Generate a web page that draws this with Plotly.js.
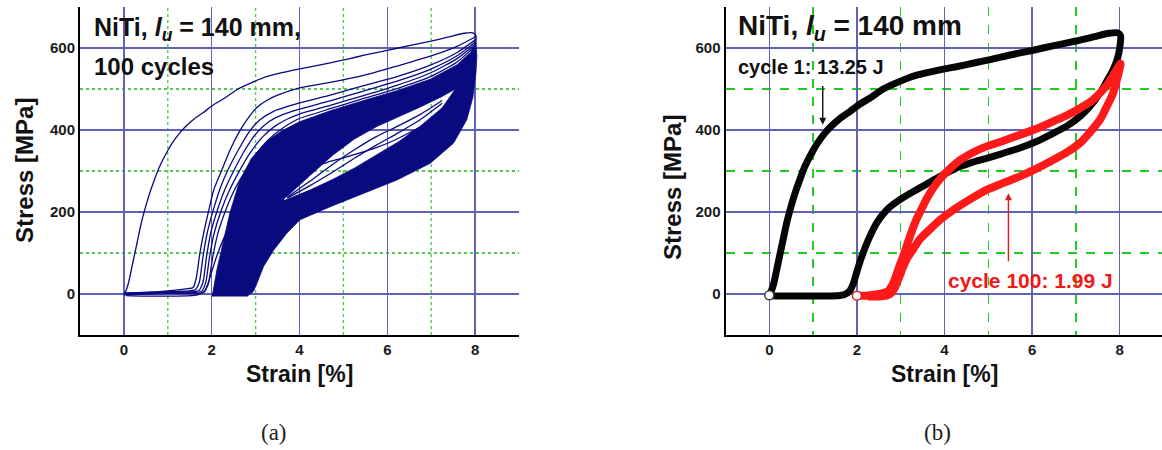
<!DOCTYPE html>
<html>
<head>
<meta charset="utf-8">
<script src="https://cdn.plot.ly/plotly-3.0.1.min.js"></script>
<style>
  html, body { margin: 0; padding: 0; background: #fff; }
  #chart { width: 1162px; height: 450px; }
</style>
</head>
<body>
<div id="chart"></div>
<script>
// ---- cycle 1 (strain %, stress MPa) ----
const c1LoadStrain = [0.00, 0.03, 0.10, 0.20, 0.30, 0.40, 0.50, 0.60, 0.70, 0.80, 0.90, 1.00, 1.10, 1.25, 1.40, 1.60, 1.80, 2.05, 2.30, 2.60, 2.90, 3.25, 3.60, 3.95, 4.30, 4.70, 5.10, 5.50, 6.00, 6.50, 7.00, 7.40, 7.75, 7.95, 8.02];
const c1LoadStress = [-3, 3, 25, 75, 125, 175, 215, 250, 280, 308, 330, 350, 368, 390, 408, 427, 442, 462, 478, 500, 515, 530, 540, 548, 555, 564, 573, 583, 594, 606, 617, 627, 636, 637, 630];
const c1UnloadStrain = [8.00, 7.95, 7.85, 7.70, 7.55, 7.30, 7.09, 6.80, 6.48, 6.10, 5.72, 5.30, 4.96, 4.60, 4.35, 4.10, 3.90, 3.59, 3.29, 2.98, 2.68, 2.45, 2.26, 2.11, 1.99, 1.92, 1.84, 1.72, 1.55, 1.20, 0.80, 0.40, 0.05];
const c1UnloadStress = [600, 575, 547, 518, 490, 455, 433, 410, 392, 372, 356, 342, 331, 320, 311, 298, 287, 268, 250, 230, 205, 173, 132, 91, 51, 26, 8, -1, -4, -5, -5, -5, -4];

// ---- cycle 100 ----
const c100LoadStrain = [2.00, 2.20, 2.40, 2.60, 2.72, 2.80, 2.88, 2.95, 3.05, 3.14, 3.25, 3.36, 3.48, 3.59, 3.75, 3.90, 4.10, 4.35, 4.65, 4.96, 5.35, 5.72, 6.10, 6.48, 6.80, 7.09, 7.35, 7.55, 7.75, 7.93, 8.02];
const c100LoadStress = [-4, -4, -2, 2, 8, 20, 40, 62, 90, 118, 152, 182, 208, 232, 260, 281, 303, 326, 345, 360, 374, 388, 403, 421, 436, 453, 470, 490, 515, 547, 562];
const c100UnloadStrain = [7.95, 7.85, 7.70, 7.55, 7.30, 7.09, 6.80, 6.48, 6.10, 5.72, 5.35, 4.96, 4.60, 4.20, 3.90, 3.67, 3.44, 3.29, 3.15, 3.06, 2.98, 2.91, 2.85, 2.79, 2.70, 2.50, 2.25];
const c100UnloadStress = [528, 490, 456, 425, 392, 368, 346, 327, 306, 287, 271, 254, 232, 205, 181, 158, 134, 110, 88, 67, 45, 27, 12, 3, -3, -6, -6];

// ---- early loading branches, cycles 2-6 ----
const c2Strain = [0.0, 0.8, 1.45, 1.58, 1.65, 1.73, 1.82, 1.92, 2.05, 2.23, 2.42, 2.64, 2.85, 3.03, 3.25, 3.50, 4.00, 4.70, 5.46, 6.22, 6.98, 7.59, 8.02];
const c2Stress = [2, 6, 13, 16, 40, 99, 150, 198, 255, 302, 352, 398, 432, 455, 472, 485, 503, 516, 533, 556, 580, 604, 628];
const c3Strain = [0.0, 1.0, 1.62, 1.72, 1.80, 1.90, 2.05, 2.20, 2.38, 2.60, 2.85, 3.10, 3.40, 4.00, 4.70, 5.46, 6.22, 6.98, 7.59, 8.02];
const c3Stress = [2, 6, 10, 30, 90, 150, 210, 260, 305, 350, 395, 425, 445, 466, 485, 508, 530, 558, 589, 621];
const c4Strain = [0.0, 1.0, 1.70, 1.80, 1.88, 1.98, 2.13, 2.30, 2.50, 2.75, 3.00, 3.30, 3.60, 4.00, 4.70, 5.46, 6.22, 6.98, 7.59, 8.02];
const c4Stress = [0, 4, 8, 28, 90, 150, 205, 255, 300, 350, 390, 420, 437, 451, 471, 495, 519, 548, 581, 616];
const c5Strain = [0.0, 1.0, 1.76, 1.86, 1.95, 2.06, 2.22, 2.40, 2.62, 2.88, 3.15, 3.45, 3.75, 4.00, 4.70, 5.46, 6.22, 6.98, 7.59, 8.02];
const c5Stress = [0, 3, 6, 26, 90, 150, 205, 252, 298, 345, 382, 410, 428, 439, 460, 484, 509, 539, 574, 611];
const c6Strain = [0.0, 1.0, 1.82, 1.92, 2.02, 2.14, 2.31, 2.50, 2.74, 3.00, 3.28, 3.58, 3.85, 4.00, 4.70, 5.46, 6.22, 6.98, 7.59, 8.02];
const c6Stress = [-2, 1, 4, 24, 88, 148, 202, 250, 296, 340, 375, 402, 420, 428, 452, 477, 501, 530, 566, 607];

// ---- envelope of the dense later cycles ----
const bandUpperStrain = [2.00, 2.02, 2.12, 2.25, 2.42, 2.62, 2.90, 3.25, 3.60, 4.00, 4.70, 5.46, 6.22, 6.98, 7.59, 7.90, 8.02];
const bandUpperStress = [-6, 0, 60, 120, 200, 270, 330, 372, 398, 420, 447, 472, 496, 524, 559, 590, 612];
const bandLowerStrain = [8.04, 8.02, 7.95, 7.81, 7.51, 6.98, 6.22, 5.46, 4.70, 4.01, 3.71, 3.41, 3.18, 3.03, 2.95, 2.80];
const bandLowerStress = [580, 540, 480, 425, 368, 319, 278, 246, 213, 181, 148, 107, 67, 26, 6, -6];

// open gap inside the late loops, and the branches crossing it
const gapStrain = [3.65, 4.25, 4.75, 5.25, 5.75, 6.25, 6.75, 7.25, 7.55];
const gapLowerStress = [228, 254, 279, 307, 339, 371, 409, 454, 500];
const gapUpperStress = [232, 290, 338, 378, 408, 432, 456, 482, 500];
const crossStrain = [3.72, 4.25, 4.75, 5.25, 5.75, 6.25, 6.75, 7.25];
const crossAStress = [234, 265, 297, 331, 363, 393, 425, 465];
const crossBStress = [236, 276, 316, 352, 384, 410, 438, 472];

// ---- axes ----
const strainTicks = [0, 2, 4, 6, 8];
const strainMinor = [1, 3, 5, 7];
const stressTicks = [0, 200, 400, 600];
const stressMinor = [100, 300, 500];

const NAVY = '#0a0a80';
const SANS = 'Liberation Sans, Arial, Helvetica, sans-serif';

const rev = a => a.slice().reverse();
const loop = (a, b) => a.concat(b);

// band outline (clockwise) followed by the gap outline (counter-clockwise) -> gap stays open
const bandX = bandUpperStrain.concat(bandLowerStrain, [null], gapStrain, rev(gapStrain));
const bandY = bandUpperStress.concat(bandLowerStress, [null], gapLowerStress, rev(gapUpperStress));

const thin = {color: NAVY, width: 1.3, shape: 'spline', smoothing: 0.6};

const traces = [
  {x: bandX, y: bandY, xaxis: 'x', yaxis: 'y', mode: 'lines', fill: 'toself',
   fillcolor: NAVY, line: {color: NAVY, width: 0.8}},
  {x: crossStrain, y: crossAStress, xaxis: 'x', yaxis: 'y', mode: 'lines', line: thin},
  {x: crossStrain, y: crossBStress, xaxis: 'x', yaxis: 'y', mode: 'lines', line: thin},
  {x: c6Strain, y: c6Stress, xaxis: 'x', yaxis: 'y', mode: 'lines', line: thin},
  {x: c5Strain, y: c5Stress, xaxis: 'x', yaxis: 'y', mode: 'lines', line: thin},
  {x: c4Strain, y: c4Stress, xaxis: 'x', yaxis: 'y', mode: 'lines', line: thin},
  {x: c3Strain, y: c3Stress, xaxis: 'x', yaxis: 'y', mode: 'lines', line: thin},
  {x: c2Strain, y: c2Stress, xaxis: 'x', yaxis: 'y', mode: 'lines', line: thin},
  {x: loop(c1LoadStrain, c1UnloadStrain), y: loop(c1LoadStress, c1UnloadStress),
   xaxis: 'x', yaxis: 'y', mode: 'lines', line: thin},

  // right panel: first and last cycle
  {x: loop(c1LoadStrain, c1UnloadStrain), y: loop(c1LoadStress, c1UnloadStress),
   xaxis: 'x2', yaxis: 'y2', mode: 'lines',
   line: {color: '#050505', width: 7, shape: 'spline', smoothing: 0.6}},
  {x: loop(c100LoadStrain, c100UnloadStrain), y: loop(c100LoadStress, c100UnloadStress),
   xaxis: 'x2', yaxis: 'y2', mode: 'lines',
   line: {color: '#ff1a1a', width: 8, shape: 'spline', smoothing: 0.6}},
  {x: [c1LoadStrain[0]], y: [c1LoadStress[0]], xaxis: 'x2', yaxis: 'y2', mode: 'markers',
   marker: {size: 9, color: '#ffffff', line: {color: '#444', width: 1.5}}},
  {x: [c100LoadStrain[0]], y: [c100LoadStress[0]], xaxis: 'x2', yaxis: 'y2', mode: 'markers',
   marker: {size: 9, color: '#ffffff', line: {color: '#e02020', width: 1.5}}}
];

function xAxis(domain, anchor, range, minorGrid, minorDash, minorColor) {
  return {
    domain, anchor, range, tickmode: 'array', tickvals: strainTicks,
    showgrid: true, gridcolor: '#6262b4', gridwidth: 1.3, zeroline: false,
    showline: true, linecolor: '#000', linewidth: 2, ticks: '',
    tickfont: {family: SANS, size: 15, color: '#1a1a1a', weight: 'bold'},
    minor: {tickmode: 'array', tickvals: strainMinor, showgrid: minorGrid, gridcolor: minorColor, griddash: minorDash, gridwidth: 1.4},
    fixedrange: true
  };
}
function yAxis(anchor, minorDash, minorColor) {
  return {
    domain: [0.25556, 0.98444], anchor, range: [-100, 700], tickmode: 'array', tickvals: stressTicks,
    showgrid: true, gridcolor: '#6262b4', gridwidth: 1.3, zeroline: false,
    showline: true, linecolor: '#000', linewidth: 2, ticks: '',
    tickfont: {family: SANS, size: 15, color: '#1a1a1a', weight: 'bold'},
    minor: {tickmode: 'array', tickvals: stressMinor, showgrid: true, gridcolor: minorColor, griddash: minorDash, gridwidth: 1.4},
    fixedrange: true
  };
}

// left panel: odd-strain guide lines drawn as shapes under the curves
const shapes = strainMinor.map(v => ({
  type: 'line', xref: 'x', yref: 'y domain', x0: v, x1: v, y0: 0, y1: 1, layer: 'below',
  line: {color: '#55c855', width: 1.4, dash: '3px,3px'}
}));

const txt = (size, color) => ({family: SANS, size, color: color || '#111'});

const annotations = [
  // panel texts
  {xref: 'x', yref: 'y', x: -0.72, y: 647, xanchor: 'left', yanchor: 'middle', showarrow: false,
   text: '<b>NiTi, <i>l</i><sub><i>u</i></sub> = 140 mm,</b>', font: txt(25)},
  {xref: 'x', yref: 'y', x: -0.72, y: 556, xanchor: 'left', yanchor: 'middle', showarrow: false,
   text: '<b>100 cycles</b>', font: txt(24)},
  {xref: 'x2', yref: 'y2', x: -0.76, y: 649, xanchor: 'left', yanchor: 'middle', showarrow: false,
   text: '<b>NiTi, <i>l</i><sub><i>u</i></sub> = 140 mm</b>', font: txt(28)},
  {xref: 'x2', yref: 'y2', x: -0.76, y: 553, xanchor: 'left', yanchor: 'middle', showarrow: false,
   text: '<b>cycle 1: 13.25 J</b>', font: txt(20)},
  {xref: 'x2', yref: 'y2', x: 5.96, y: 34, xanchor: 'center', yanchor: 'middle', showarrow: false,
   text: '<b>cycle 100: 1.99 J</b>', font: txt(21, '#f01818')},
  // pointers
  {xref: 'x2', yref: 'y2', x: 1.22, y: 413, axref: 'x2', ayref: 'y2', ax: 1.22, ay: 511,
   text: '', showarrow: true, arrowhead: 2, arrowsize: 1, arrowwidth: 1.4, arrowcolor: '#111', standoff: 0},
  {xref: 'x2', yref: 'y2', x: 5.46, y: 246, axref: 'x2', ayref: 'y2', ax: 5.46, ay: 76,
   text: '', showarrow: true, arrowhead: 2, arrowsize: 1, arrowwidth: 1.4, arrowcolor: '#e01818', standoff: 0},
  // axis titles
  {xref: 'paper', yref: 'paper', x: 299 / 1162, y: 1 - 373.5 / 450, xanchor: 'center', yanchor: 'middle',
   showarrow: false, text: '<b>Strain [%]</b>', font: txt(23)},
  {xref: 'paper', yref: 'paper', x: 944.5 / 1162, y: 1 - 373.5 / 450, xanchor: 'center', yanchor: 'middle',
   showarrow: false, text: '<b>Strain [%]</b>', font: txt(23)},
  {xref: 'paper', yref: 'paper', x: 24 / 1162, y: 1 - 171 / 450, xanchor: 'center', yanchor: 'middle',
   showarrow: false, textangle: -90, text: '<b>Stress [MPa]</b>', font: txt(24)},
  {xref: 'paper', yref: 'paper', x: 672 / 1162, y: 1 - 188 / 450, xanchor: 'center', yanchor: 'middle',
   showarrow: false, textangle: -90, text: '<b>Stress [MPa]</b>', font: txt(24)},
  // sub-figure captions
  {xref: 'paper', yref: 'paper', x: 274 / 1162, y: 1 - 432.5 / 450, xanchor: 'center', yanchor: 'middle',
   showarrow: false, text: '(a)', font: {family: 'Liberation Serif, Times New Roman, serif', size: 23, color: '#222'}},
  {xref: 'paper', yref: 'paper', x: 937 / 1162, y: 1 - 432.5 / 450, xanchor: 'center', yanchor: 'middle',
   showarrow: false, text: '(b)', font: {family: 'Liberation Serif, Times New Roman, serif', size: 23, color: '#222'}}
];

const layout = {
  width: 1162, height: 450,
  margin: {l: 0, r: 0, t: 0, b: 0},
  paper_bgcolor: '#fff', plot_bgcolor: '#fff',
  showlegend: false,
  xaxis: xAxis([80 / 1162, 519 / 1162], 'y', [-1, 9], false, '3px,3px', '#55c855'),
  yaxis: yAxis('x', '3px,3px', '#55c855'),
  xaxis2: xAxis([725.5 / 1162, 1], 'y2', [-1, 8.966], true, 'dash', '#22cc22'),
  yaxis2: yAxis('x2', 'dash', '#22cc22'),
  shapes,
  annotations
};

Plotly.newPlot('chart', traces, layout, {staticPlot: true, displayModeBar: false});
</script>
</body>
</html>
